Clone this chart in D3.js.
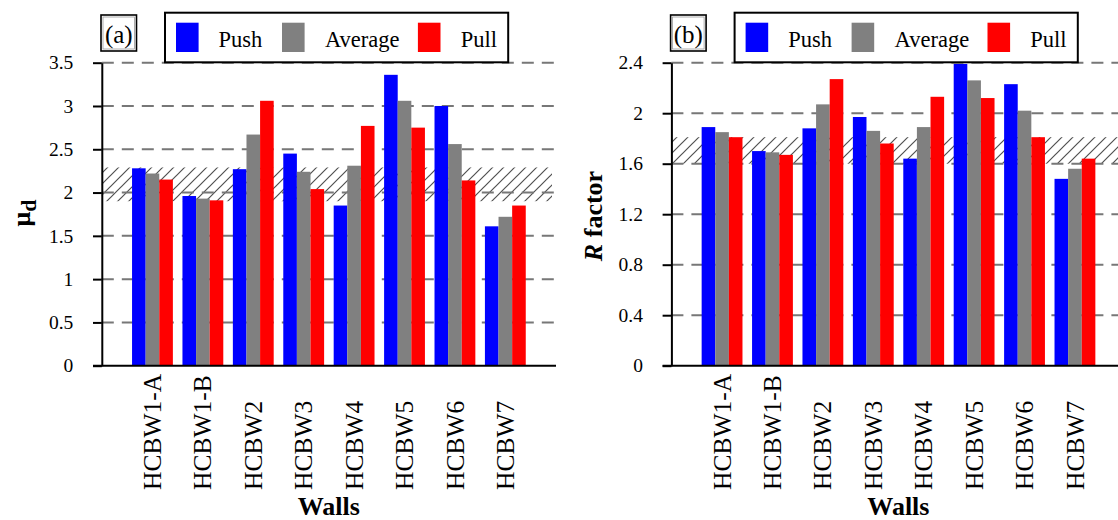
<!DOCTYPE html>
<html>
<head>
<meta charset="utf-8">
<script src="https://cdn.jsdelivr.net/npm/d3@7"></script>
<style>
  html, body { margin: 0; padding: 0; background: #fff; }
  svg { display: block; }
  svg text { font-family: "Liberation Serif", "Times New Roman", serif !important; fill: #000; }
</style>
</head>
<body>
<svg id="chart" width="1118" height="520" font-family="Liberation Serif, serif"></svg>
<script>
// Wall specimens and series
const walls = ["HCBW1-A", "HCBW1-B", "HCBW2", "HCBW3", "HCBW4", "HCBW5", "HCBW6", "HCBW7"];
const seriesNames = ["Push", "Average", "Pull"];
const seriesColors = ["#0000ff", "#808080", "#ff0000"];

// (a) displacement ductility
const muPush    = [2.28, 1.96, 2.27, 2.45, 1.85, 3.36, 3.00, 1.61];
const muAverage = [2.22, 1.93, 2.67, 2.24, 2.31, 3.06, 2.56, 1.72];
const muPull    = [2.15, 1.91, 3.06, 2.04, 2.77, 2.75, 2.14, 1.85];
const muTicks   = [0, 0.5, 1, 1.5, 2, 2.5, 3, 3.5];
const muRange   = [1.9, 2.29];

// (b) response modification factor
const rPush    = [1.89, 1.70, 1.88, 1.97, 1.64, 2.39, 2.23, 1.48];
const rAverage = [1.85, 1.69, 2.07, 1.86, 1.89, 2.26, 2.02, 1.56];
const rPull    = [1.81, 1.67, 2.27, 1.76, 2.13, 2.12, 1.81, 1.64];
const rTicks   = [0, 0.4, 0.8, 1.2, 1.6, 2, 2.4];
const rRange   = [1.6, 1.81];

const FONT = "'Liberation Serif', 'Times New Roman', serif";
const svg = d3.select("#chart");

// diagonal hatch used for the shaded range bands
const defs = svg.append("defs");
const pat = defs.append("pattern")
  .attr("id", "hatch")
  .attr("patternUnits", "userSpaceOnUse")
  .attr("width", 11).attr("height", 11);
pat.append("path")
  .attr("d", "M-2,13 L13,-2 M-3,3 L3,-3 M8,14 L14,8")
  .attr("stroke", "#505050").attr("stroke-width", 1.2).attr("fill", "none");

const yTop = 62.7, yBottom = 365.7;

function drawPanel(opt) {
  const g = svg.append("g");
  const x0 = opt.x0;

  const x = d3.scaleBand().domain(walls)
    .range([x0, x0 + 454.2]).paddingInner(0.19).paddingOuter(0.6);
  const xs = d3.scaleBand().domain(seriesNames).range([0, x.bandwidth()]);
  const y = d3.scaleLinear().domain([0, opt.ticks[opt.ticks.length - 1]]).range([yBottom, yTop]);

  // shaded band
  g.append("rect")
    .attr("x", x0).attr("y", y(opt.band[1]))
    .attr("width", opt.hatchEnd - x0).attr("height", y(opt.band[0]) - y(opt.band[1]))
    .attr("fill", "url(#hatch)");

  // dashed gridlines
  g.append("g").selectAll("line").data(opt.ticks.filter(d => d > 0)).join("line")
    .attr("x1", x0).attr("x2", opt.gridEnd)
    .attr("y1", d => y(d)).attr("y2", d => y(d))
    .attr("stroke", "#777").attr("stroke-width", 2)
    .attr("stroke-dasharray", "12,8");

  // bars
  const rows = walls.map((w, i) => ({ wall: w, vals: opt.series.map(s => s[i]) }));
  g.append("g").selectAll("g").data(rows).join("g")
    .attr("transform", d => `translate(${x(d.wall)},0)`)
    .selectAll("rect")
    .data(d => d.vals.map((v, k) => ({ name: seriesNames[k], v, k })))
    .join("rect")
    .attr("x", d => xs(d.name))
    .attr("width", xs.bandwidth())
    .attr("y", d => y(d.v))
    .attr("height", d => y(0) - y(d.v))
    .attr("fill", d => seriesColors[d.k]);

  // y axis
  const yAxis = g.append("g")
    .attr("transform", `translate(${x0},0)`)
    .call(d3.axisLeft(y).tickValues(opt.ticks).tickSize(8.8).tickSizeOuter(0)
      .tickPadding(19.7).tickFormat(d3.format("")));
  yAxis.attr("font-family", FONT).attr("font-size", 19.5);
  yAxis.select(".domain").attr("stroke", "#000").attr("stroke-width", 2);
  yAxis.selectAll(".tick line").attr("stroke", "#000").attr("stroke-width", 2);
  yAxis.selectAll(".tick text")
    .style("font-family", FONT)
    .style("font-size", "19.5px").attr("fill", "#000");

  // x axis baseline
  g.append("line")
    .attr("x1", x0 - 8.8).attr("x2", opt.axisEnd)
    .attr("y1", yBottom).attr("y2", yBottom)
    .attr("stroke", "#000").attr("stroke-width", 2);

  // category labels, rotated
  g.append("g").selectAll("text").data(walls).join("text")
    .attr("transform", d => `translate(${x(d) + x.bandwidth() / 2 + 8.6},490) rotate(-90)`)
    .attr("text-anchor", "start")
    .style("font-family", FONT)
    .style("font-size", "25.5px")
    .text(d => d);

  // x title
  g.append("text")
    .attr("x", x0 + 227).attr("y", 515)
    .attr("text-anchor", "middle")
    .style("font-family", FONT)
    .style("font-size", "26px").style("font-weight", "bold")
    .text("Walls");

  // y title
  opt.yTitle(g.append("text")
    .attr("transform", `translate(${opt.yTitleX},${opt.yTitleY}) rotate(-90)`)
    .attr("text-anchor", "middle")
    .style("font-family", FONT)
    .style("font-size", "26px").style("font-weight", "bold"));

  // panel tag
  const tag = g.append("g").attr("transform", `translate(${x0 - 0.8},15)`);
  tag.append("rect").attr("width", 35.5).attr("height", 36)
    .attr("fill", "#fff").attr("stroke", "#000").attr("stroke-width", 1.6);
  tag.append("rect").attr("x", 2).attr("y", 2).attr("width", 31.5).attr("height", 32)
    .attr("fill", "none").attr("stroke", "#999").attr("stroke-width", 0.8);
  tag.append("text").attr("x", 17.75).attr("y", 27.5)
    .attr("text-anchor", "middle")
    .style("font-family", FONT).style("font-size", "25px")
    .text(opt.tag);

  // legend
  const lg = g.append("g").attr("transform", `translate(${x0 + 63.2},12.7)`);
  lg.append("rect").attr("width", 343.2).attr("height", 49.6)
    .attr("fill", "#fff").attr("stroke", "#000").attr("stroke-width", 2);
  const itemX = [11, 117, 252.9];
  const textX = [53.6, 160, 295.7];
  seriesNames.forEach((n, k) => {
    lg.append("rect").attr("x", itemX[k]).attr("y", 10).attr("width", 22.6).attr("height", 29.3)
      .attr("fill", seriesColors[k]);
    lg.append("text").attr("x", textX[k]).attr("y", 34)
      .style("font-family", FONT)
      .style("font-size", "22.5px").text(n);
  });
}

drawPanel({
  x0: 101.8, gridEnd: 560, axisEnd: 556, hatchEnd: 552,
  ticks: muTicks, band: muRange, series: [muPush, muAverage, muPull],
  tag: "(a)", yTitleX: 30, yTitleY: 213,
  yTitle: t => {
    t.append("tspan").text("μ");
    t.append("tspan").attr("dy", 6).style("font-size", "22px").text("d");
  }
});

drawPanel({
  x0: 671.4, gridEnd: 1118, axisEnd: 1118, hatchEnd: 1118,
  ticks: rTicks, band: rRange, series: [rPush, rAverage, rPull],
  tag: "(b)", yTitleX: 602, yTitleY: 216,
  yTitle: t => {
    t.append("tspan").style("font-style", "italic").text("R");
    t.append("tspan").text(" factor");
  }
});
</script>
</body>
</html>
